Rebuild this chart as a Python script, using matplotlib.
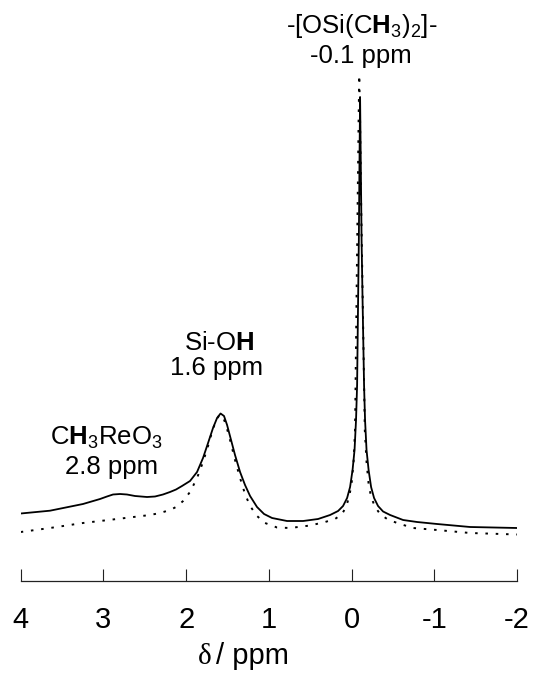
import matplotlib
matplotlib.use("Agg")
import matplotlib.pyplot as plt

plt.rcParams['font.family'] = ['Liberation Sans', 'DejaVu Sans']
plt.rcParams['mathtext.fontset'] = 'custom'
plt.rcParams['mathtext.rm'] = 'Liberation Sans'
plt.rcParams['mathtext.it'] = 'Liberation Sans:italic'
plt.rcParams['mathtext.bf'] = 'Liberation Sans:bold'
plt.rcParams['axes.unicode_minus'] = False

# ---- data ----
solid_ppm = [4.000, 3.646, 3.247, 3.041, 2.957, 2.884, 2.799, 2.715, 2.618, 2.473,
             2.376, 2.280, 2.195, 2.122, 2.050, 1.953, 1.868, 1.796, 1.735, 1.675,
             1.626, 1.584, 1.542, 1.505, 1.457, 1.409, 1.348, 1.288, 1.227, 1.143,
             1.058, 0.961, 0.780, 0.586, 0.405, 0.260, 0.163, 0.103, 0.054, 0.018,
             -0.012, -0.036, -0.054, -0.067, -0.079, -0.088, -0.096, -0.103, -0.111,
             -0.121, -0.133, -0.151, -0.163, -0.181, -0.206, -0.236, -0.272, -0.320,
             -0.381, -0.466, -0.623, -0.792, -1.034, -1.433, -2.000]
solid_int = [67.5, 70.3, 77, 82, 84.5, 86.5, 87, 86.5, 85, 84,
             84.5, 86.5, 89, 91.5, 95, 100, 109, 123, 138, 153,
             163, 167.5, 165, 156, 141, 126, 109, 96, 85, 74,
             67, 63, 60, 60, 62, 66, 70, 75, 83, 94,
             111, 131, 161, 196, 281, 341, 421, 484, 421,
             341, 281, 196, 161, 131, 111, 94, 83, 75,
             69.5, 66, 61, 59, 57, 54, 53]

dot_ppm = [4.000, 3.646, 3.247, 2.836, 2.437, 2.316, 2.195, 2.110, 2.037, 1.953,
           1.868, 1.796, 1.735, 1.687, 1.638, 1.596, 1.554, 1.518, 1.469, 1.409,
           1.348, 1.288, 1.227, 1.143, 1.046, 0.901, 0.744, 0.502, 0.320, 0.200,
           0.115, 0.067, 0.030, 0.000, -0.024, -0.042, -0.060, -0.074, -0.085,
           -0.093, -0.103, -0.115, -0.135, -0.160, -0.181, -0.206, -0.236, -0.284,
           -0.345, -0.429, -0.550, -0.744, -1.034, -1.433, -2.000]
dot_int = [49, 53, 58, 62, 66, 68, 71, 74.5, 80, 89,
           103, 119, 135, 149, 161, 166, 164, 156, 141, 121,
           103, 87, 75, 65, 58, 53.5, 53, 55.5, 59, 62,
           67, 74, 84, 97, 119, 151, 281, 381, 461,
           506, 461, 381, 281, 151, 119, 97, 84, 74,
           67, 62, 58, 53, 51, 48, 46.5]

tick_vals = [4, 3, 2, 1, 0, -1, -2]
tick_labels = ['4', '3', '2', '1', '0', '-1', '-2']

W, H = 535, 673
fig = plt.figure(figsize=(W / 100, H / 100), dpi=100)
ax = fig.add_axes([20.7 / W, 92 / H, (517 - 20.7) / W, 521 / H])

ax.plot(solid_ppm, solid_int, color='black', lw=1.3, solid_joinstyle='round')
ax.plot(dot_ppm, dot_int, color='black', lw=1.4, linestyle=(0, (1.3, 4.0)))

ax.set_xlim(4, -2)
ax.set_ylim(0, 521)
for s in ['left', 'right', 'top']:
    ax.spines[s].set_visible(False)
ax.spines['bottom'].set_linewidth(0.9)
ax.spines['bottom'].set_color('#222222')
ax.set_yticks([])
ax.set_xticks(tick_vals)
ax.set_xticklabels(tick_labels)
ax.tick_params(axis='x', direction='in', length=8.6, width=0.8, color='#222222',
               labelsize=21, pad=18)
ax.patch.set_alpha(0)

fs = 18.5
def ftext(x, y, s, size=fs, **kw):
    fig.text(x / W, 1 - y / H, s, ha='center', va='baseline', fontsize=size, **kw)

ftext(362, 33, r'-[OSi(C$\mathbf{H}_3$)$_2$]-')
ftext(361, 63, '-0.1 ppm')
ftext(219, 350, r'Si-O$\mathbf{H}$')
ftext(217, 375, '1.6 ppm')
ftext(106, 445, r'C$\mathbf{H}_3$ReO$_3$')
ftext(112, 474, '2.8 ppm')

fig.text(205 / W, 1 - 664 / H, 'δ', ha='center', va='baseline', fontsize=21,
         family=['Liberation Serif', 'DejaVu Serif'])
fig.text(216 / W, 1 - 664 / H, '/ ppm', ha='left', va='baseline', fontsize=21)

fig.savefig('out.png', dpi=100)
